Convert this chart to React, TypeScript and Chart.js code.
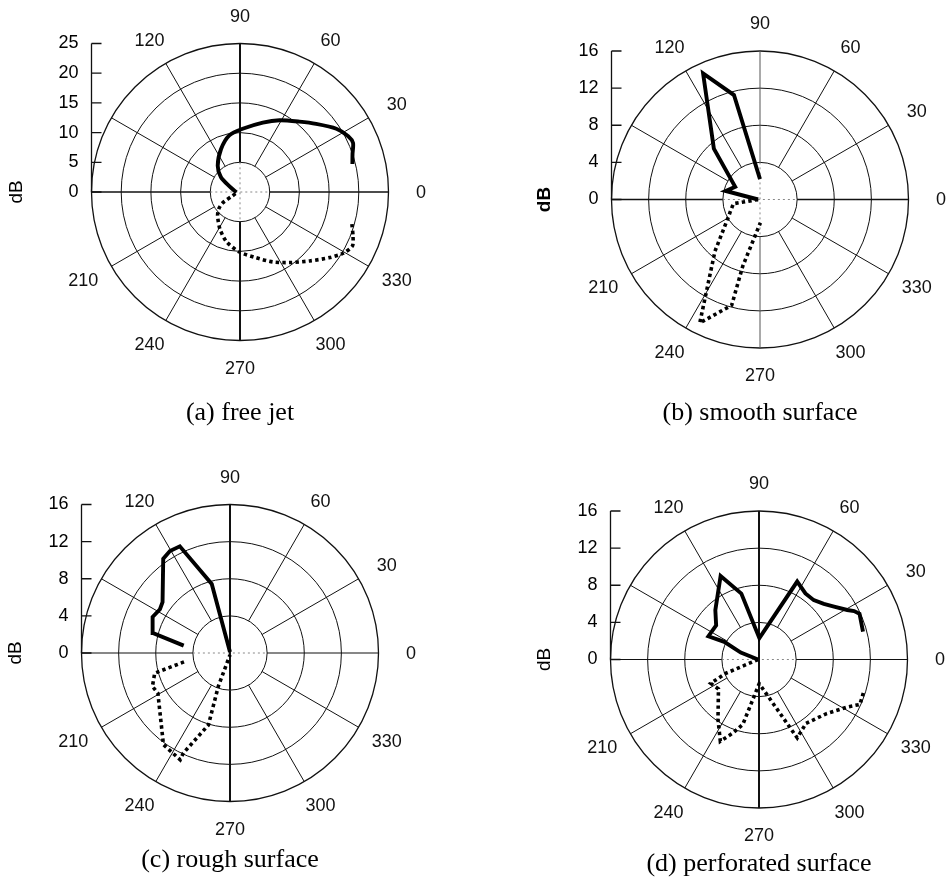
import React, { useEffect, useRef } from 'react';
import { Chart, registerables } from 'chart.js';

Chart.register(...registerables);

// ---------- data (angle in degrees, level in dB) ----------
// (a) free jet
const freeJetSolidAngle = [14, 18.7, 23.5, 27.3, 33.3, 41.8, 49.8, 61.1, 71.8, 87.6, 100.7, 113.8, 130.3, 142.3, 152, 185];
const freeJetSolidDb = [19.5, 20.0, 20.75, 20.5, 19.4, 17.2, 15.5, 13.8, 12.3, 10.65, 9.7, 7.9, 5.8, 4.05, 2.0, 0.6];
const freeJetDottedAngle = [344, 338.8, 334.4, 329.3, 323.8, 315.3, 305, 295.1, 283.8, 269.4, 255, 241.6, 226.7, 218.6, 212.4, 206.6, 190];
const freeJetDottedDb = [19.6, 20.4, 21.0, 20.2, 18.7, 16.5, 14.5, 13.0, 11.4, 10.1, 8.7, 7.1, 5.5, 4.6, 3.5, 1.4, 0.5];

// (b) smooth surface
const smoothSolidAngle = [90, 104, 114.3, 132.2, 153, 166, 180];
const smoothSolidDb = [2.2, 11.6, 14.9, 7.4, 3.0, 3.8, 0.2];
const smoothDottedAngle = [180, 189, 203, 209, 229, 244, 255, 255.5, 271];
const smoothDottedDb = [0.2, 2.9, 3.5, 3.9, 7.4, 14.8, 11.8, 7.4, 2.5];

// (c) rough surface
const roughSolidAngle = [171, 165.5, 155, 148, 143, 125.3, 120.5, 115.2, 104.8, 90];
const roughSolidDb = [5.05, 8.6, 9.2, 8.9, 9.1, 12.45, 12.75, 12.7, 7.7, 0.1];
const roughDottedAngle = [191, 195, 203.3, 209.2, 234, 245, 245, 253.3, 250.7, 270];
const roughDottedDb = [5.05, 8.4, 9.1, 8.9, 12.2, 12.7, 11.9, 8.1, 3.8, 0.2];

// (d) perforated surface
const perfSolidAngle = [15, 24.5, 27, 29.3, 35.2, 40.6, 47.3, 54.9, 63.9, 89, 105, 114.7, 131.5, 141.5, 155.3, 153, 159, 180];
const perfSolidDb = [11.6, 11.9, 11.5, 10.9, 9.9, 9.2, 8.7, 8.7, 9.35, 2.3, 7.35, 9.9, 7.1, 5.9, 6.0, 4.2, 2.1, 0.1];
const perfDottedAngle = [180, 202.6, 206.3, 216, 235.5, 244.7, 250.5, 256, 270.5, 296, 306.3, 321, 331.7, 336, 342.5];
const perfDottedDb = [0.1, 3.9, 5.8, 5.4, 7.8, 9.75, 8.4, 7.2, 2.6, 9.4, 8.55, 9.3, 10.8, 11.9, 11.8];

// ---------- ticks / labels ----------
const angleTickLabels = [0, 30, 60, 90, 120, 210, 240, 270, 300, 330];
const spokeAngles = [0, 30, 60, 90, 120, 150, 180, 210, 240, 270, 300, 330];
const dbTicks25 = [0, 5, 10, 15, 20, 25];
const dbTicks16 = [0, 4, 8, 12, 16];
const titles = ['(a) free jet', '(b) smooth surface', '(c) rough surface', '(d) perforated surface'];

const toXY = (angles: number[], db: number[]) =>
  angles.map((a, i) => ({
    x: db[i] * Math.cos((a * Math.PI) / 180),
    y: db[i] * Math.sin((a * Math.PI) / 180),
  }));

const SANS = '"Liberation Sans", Arial, sans-serif';
const SERIF = '"Liberation Serif", "Times New Roman", serif';

const polarGrid = {
  id: 'polarGrid',
  beforeDatasetsDraw(chart: any, _args: any, opts: any) {
    const { ctx, scales } = chart;
    const x = scales.x;
    const y = scales.y;
    const cx = x.getPixelForValue(0);
    const cy = y.getPixelForValue(0);
    const rings: number[] = opts.rings;
    const rMax = rings[rings.length - 1];
    const rad = (v: number) => x.getPixelForValue(v) - cx;
    const R = rad(rMax);
    const rIn = rad(rings[1]);
    ctx.save();
    ctx.strokeStyle = '#111';
    // rings
    rings.slice(1).forEach((v, i, arr) => {
      ctx.lineWidth = i === arr.length - 1 ? 1.3 : 1;
      ctx.beginPath();
      ctx.arc(cx, cy, rad(v), 0, Math.PI * 2);
      ctx.stroke();
    });
    // spokes
    spokeAngles.forEach((a) => {
      const t = (a * Math.PI) / 180;
      const c = Math.cos(t);
      const s = Math.sin(t);
      let w = 1;
      if (a === 90 || a === 270) w = opts.vWidth;
      else if (a === 0 || a === 180) w = opts.hWidth;
      ctx.lineWidth = w;
      ctx.strokeStyle = a % 180 === 90 ? opts.vColor : '#111';
      ctx.beginPath();
      ctx.moveTo(cx + rIn * c, cy - rIn * s);
      ctx.lineTo(cx + R * c, cy - R * s);
      ctx.stroke();
    });
    // inside the inner ring
    ctx.strokeStyle = '#888';
    ctx.lineWidth = 1;
    ctx.setLineDash([2, 3]);
    ctx.beginPath();
    ctx.moveTo(cx - rIn, cy);
    ctx.lineTo(cx + rIn, cy);
    if (!opts.solidInnerV) {
      ctx.moveTo(cx, cy - rIn);
      ctx.lineTo(cx, cy + rIn);
    }
    ctx.stroke();
    ctx.setLineDash([]);
    if (opts.solidInnerV) {
      ctx.strokeStyle = '#111';
      ctx.lineWidth = opts.vWidth;
      ctx.beginPath();
      ctx.moveTo(cx, cy - rIn);
      ctx.lineTo(cx, cy + rIn);
      ctx.stroke();
    }
    // angle labels
    ctx.fillStyle = '#111';
    ctx.font = `18px ${SANS}`;
    ctx.textAlign = 'center';
    ctx.textBaseline = 'middle';
    angleTickLabels.forEach((a) => {
      const t = (a * Math.PI) / 180;
      ctx.fillText(String(a), cx + 1.219 * R * Math.cos(t), cy - 1.185 * R * Math.sin(t) + 1);
    });
    // dB axis (upper half, ticks pointing inward)
    const x0 = chart.chartArea.left;
    ctx.strokeStyle = '#111';
    ctx.lineWidth = 1.3;
    ctx.beginPath();
    ctx.moveTo(x0, y.getPixelForValue(0));
    ctx.lineTo(x0, y.getPixelForValue(rMax));
    y.ticks.forEach((tk: any) => {
      const yy = y.getPixelForValue(tk.value);
      ctx.moveTo(x0, yy);
      ctx.lineTo(x0 + 10, yy);
    });
    ctx.stroke();
    ctx.restore();
  },
};

type PanelDef = {
  left: number; top: number; w: number; h: number;
  padLeft: number; axisW: number; padTop: number; padRight: number; padBottom: number;
  titlePad: number; title: string; ticks: number[];
  solid: { x: number; y: number }[]; dotted: { x: number; y: number }[];
  tension: number; boldDb: boolean; vWidth: number; hWidth: number; vColor: string; solidInnerV: boolean;
};

const panels: PanelDef[] = [
  {
    left: 0, top: 0, w: 473, h: 440,
    padLeft: 5.2, axisW: 86.3, padTop: 43.5, padRight: 84.5, padBottom: 11.2, titlePad: 57.1,
    title: titles[0], ticks: dbTicks25,
    solid: toXY(freeJetSolidAngle, freeJetSolidDb), dotted: toXY(freeJetDottedAngle, freeJetDottedDb),
    tension: 0.25, boldDb: false, vWidth: 2, hWidth: 1.5, vColor: '#111', solidInnerV: false,
  },
  {
    left: 473, top: 0, w: 473, h: 440,
    padLeft: 60.7, axisW: 77.8, padTop: 51, padRight: 37.5, padBottom: 11.2, titlePad: 49.6,
    title: titles[1], ticks: dbTicks16,
    solid: toXY(smoothSolidAngle, smoothSolidDb), dotted: toXY(smoothDottedAngle, smoothDottedDb),
    tension: 0, boldDb: true, vWidth: 1, hWidth: 1.5, vColor: '#555', solidInnerV: false,
  },
  {
    left: 0, top: 440, w: 473, h: 447,
    padLeft: 4.2, axisW: 77.3, padTop: 64.5, padRight: 94.5, padBottom: 11.2, titlePad: 43.1,
    title: titles[2], ticks: dbTicks16,
    solid: toXY(roughSolidAngle, roughSolidDb), dotted: toXY(roughDottedAngle, roughDottedDb),
    tension: 0, boldDb: false, vWidth: 2, hWidth: 1.2, vColor: '#111', solidInnerV: true,
  },
  {
    left: 473, top: 440, w: 473, h: 447,
    padLeft: 60.7, axisW: 76.8, padTop: 71, padRight: 38.5, padBottom: 7.2, titlePad: 40.6,
    title: titles[3], ticks: dbTicks16,
    solid: toXY(perfSolidAngle, perfSolidDb), dotted: toXY(perfDottedAngle, perfDottedDb),
    tension: 0, boldDb: false, vWidth: 2, hWidth: 1.2, vColor: '#111', solidInnerV: true,
  },
];

function Panel({ p }: { p: PanelDef }) {
  const ref = useRef<HTMLCanvasElement | null>(null);
  useEffect(() => {
    if (!ref.current) return;
    const max = p.ticks[p.ticks.length - 1];
    const chart = new Chart(ref.current, {
      type: 'scatter',
      data: {
        datasets: [
          {
            label: 'solid',
            data: p.solid,
            showLine: true,
            pointRadius: 0,
            borderColor: '#000',
            borderWidth: 3.9,
            tension: p.tension,
            borderJoinStyle: 'miter',
          },
          {
            label: 'dotted',
            data: p.dotted,
            showLine: true,
            pointRadius: 0,
            borderColor: '#000',
            borderWidth: 3.6,
            borderDash: [3.4, 3.2],
            tension: p.tension,
          },
        ],
      },
      options: {
        responsive: false,
        animation: false,
        events: [],
        layout: { padding: { left: p.padLeft, top: p.padTop, right: p.padRight, bottom: p.padBottom } },
        plugins: {
          legend: { display: false },
          tooltip: { enabled: false },
          title: {
            display: true,
            text: p.title,
            position: 'bottom',
            fullSize: false,
            color: '#000',
            font: { family: SERIF, size: 26, weight: 'normal', lineHeight: 1.2 },
            padding: { top: p.titlePad, bottom: 0 },
          },
          polarGrid: {
            rings: p.ticks, vWidth: p.vWidth, hWidth: p.hWidth, vColor: p.vColor, solidInnerV: p.solidInnerV,
          },
        } as any,
        scales: {
          x: { type: 'linear', min: -max, max: max, display: false },
          y: {
            type: 'linear',
            min: -max,
            max: max,
            afterBuildTicks: (s: any) => {
              s.ticks = p.ticks.map((v) => ({ value: v }));
            },
            afterFit: (s: any) => {
              s.width = p.axisW;
            },
            ticks: { autoSkip: false, padding: 13, color: '#000', font: { family: SANS, size: 18 } },
            grid: { display: false, drawTicks: false },
            border: { display: false },
            title: {
              display: true,
              text: 'dB',
              color: '#000',
              padding: 0,
              font: { family: SANS, size: 19, weight: p.boldDb ? 'bold' : 'normal', lineHeight: 1.2 },
            },
          },
        },
      } as any,
      plugins: [polarGrid],
    });
    return () => chart.destroy();
  }, [p]);
  return (
    <canvas
      ref={ref}
      width={p.w}
      height={p.h}
      style={{ position: 'absolute', left: p.left, top: p.top, width: p.w, height: p.h }}
    />
  );
}

export default function App() {
  return (
    <div style={{ position: 'absolute', left: 0, top: 0, width: 946, height: 887, background: '#fff', overflow: 'hidden' }}>
      {panels.map((p, i) => (
        <Panel key={i} p={p} />
      ))}
    </div>
  );
}
